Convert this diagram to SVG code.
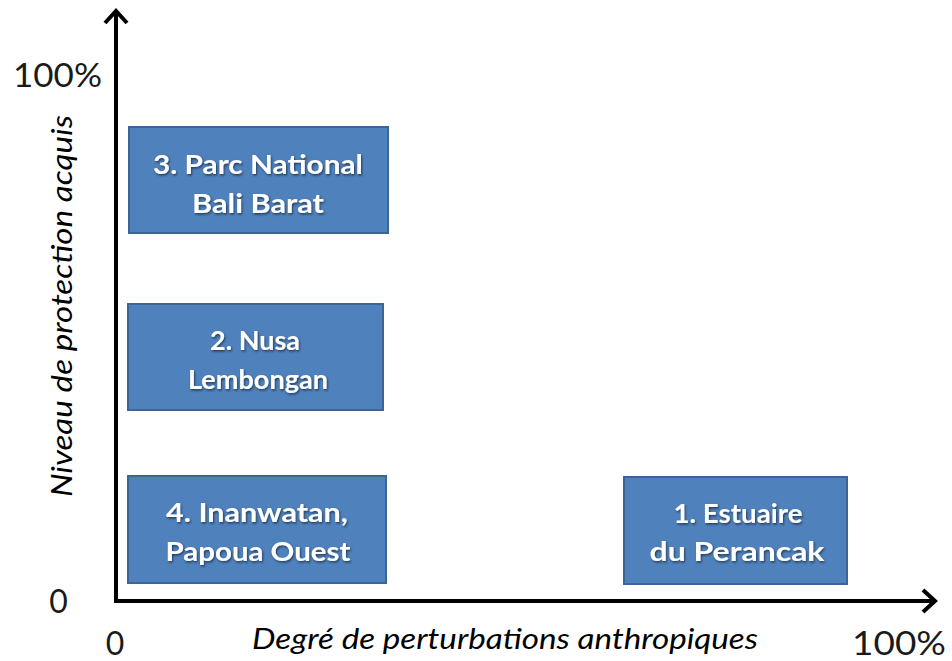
<svg xmlns="http://www.w3.org/2000/svg" width="952" height="661" viewBox="0 0 952 661">
  <style>
    .box { fill: #4F81BD; stroke: #3A6596; stroke-width: 2; }
    .lbl { font-family: Lato, "Liberation Sans", sans-serif; font-weight: 700; font-size: 27px; fill: #FFFFFF; text-anchor: middle; filter: url(#tshadow); }
    .axis { stroke: #000000; stroke-width: 4; fill: none; }
    .axtitle { font-family: Lato, "Liberation Sans", sans-serif; font-style: italic; font-size: 29px; fill: #000000; text-anchor: middle; }
    .tick { font-family: Lato, "Liberation Sans", sans-serif; font-weight: 400; font-size: 32px; fill: #1A1A1A; }
  </style>
  <defs>
    <filter id="tshadow" x="-10%" y="-30%" width="120%" height="160%">
      <feDropShadow dx="1" dy="1.5" stdDeviation="1" flood-color="#000000" flood-opacity="0.55"/>
    </filter>
    <marker id="arrow" markerUnits="userSpaceOnUse" markerWidth="30" markerHeight="30" viewBox="-16 -15 20 30" refX="0" refY="0" orient="auto">
      <path d="M -12 -11 L 0 0 L -12 11" fill="none" stroke="#000000" stroke-width="4" stroke-linejoin="miter"/>
    </marker>
  </defs>
  <rect width="952" height="661" fill="#FFFFFF"/>

  <g id="connectors">
    <line class="axis" x1="116" y1="603" x2="116" y2="11" marker-end="url(#arrow)"/>
    <line class="axis" x1="114" y1="601" x2="935" y2="601" marker-end="url(#arrow)"/>
  </g>

  <g id="axis-labels">
    <text class="axtitle" transform="translate(72,306) rotate(-90)" textLength="382" lengthAdjust="spacingAndGlyphs">Niveau de protection acquis</text>
    <text class="axtitle" x="505" y="649" textLength="506" lengthAdjust="spacingAndGlyphs">Degré de perturbations anthropiques</text>
    <text class="tick" x="13" y="87" textLength="89" lengthAdjust="spacingAndGlyphs">100%</text>
    <text class="tick" x="58.5" y="613" text-anchor="middle">0</text>
    <text class="tick" x="115" y="655" text-anchor="middle">0</text>
    <text class="tick" x="852" y="655" textLength="94" lengthAdjust="spacingAndGlyphs">100%</text>
  </g>

  <g id="node3">
    <rect class="box" x="129" y="127" width="259" height="106"/>
    <text class="lbl" x="258" y="174" textLength="210" lengthAdjust="spacingAndGlyphs">3. Parc National</text>
    <text class="lbl" x="258" y="213" textLength="132" lengthAdjust="spacingAndGlyphs">Bali Barat</text>
  </g>

  <g id="node2">
    <rect class="box" x="128" y="304" width="255" height="106"/>
    <text class="lbl" x="255" y="350" textLength="90" lengthAdjust="spacingAndGlyphs">2. Nusa</text>
    <text class="lbl" x="258" y="389" textLength="140" lengthAdjust="spacingAndGlyphs">Lembongan</text>
  </g>

  <g id="node4">
    <rect class="box" x="128" y="476" width="258" height="107"/>
    <text class="lbl" x="257" y="522" textLength="182" lengthAdjust="spacingAndGlyphs">4. Inanwatan,</text>
    <text class="lbl" x="258" y="561" textLength="185" lengthAdjust="spacingAndGlyphs">Papoua Ouest</text>
  </g>

  <g id="node1">
    <rect class="box" x="624" y="477" width="223" height="107"/>
    <text class="lbl" x="738" y="523" textLength="129" lengthAdjust="spacingAndGlyphs">1. Estuaire</text>
    <text class="lbl" x="737" y="561" textLength="175" lengthAdjust="spacingAndGlyphs">du Perancak</text>
  </g>
</svg>
